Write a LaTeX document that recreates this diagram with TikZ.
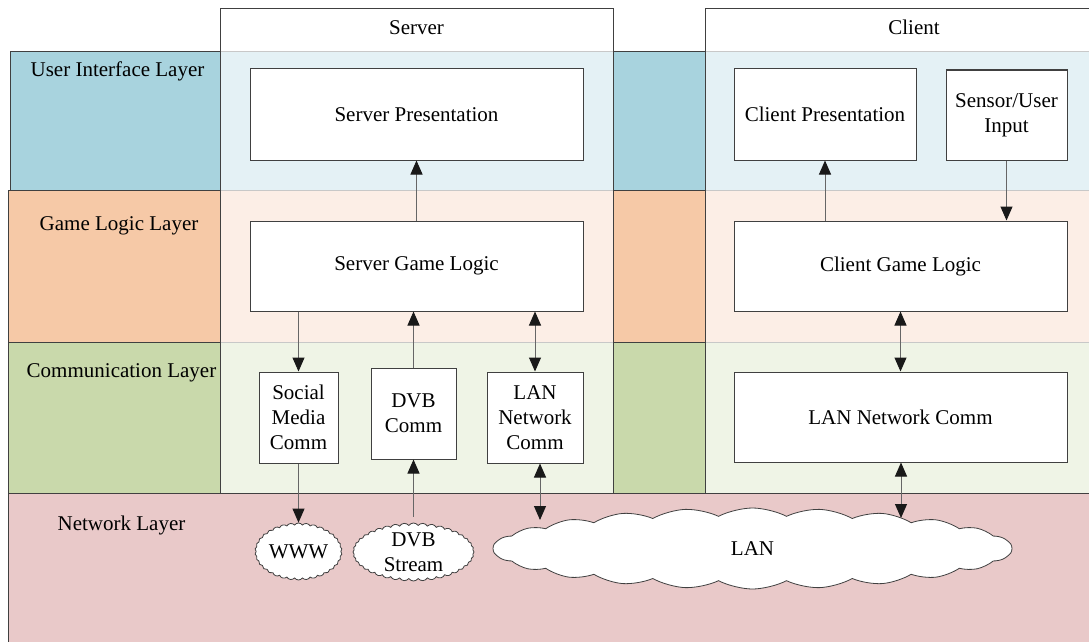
\documentclass[tikz,border=0pt]{standalone}
\usepackage{fontspec}
\setmainfont{Liberation Serif}
\usetikzlibrary{arrows.meta,shapes.symbols}

% layer colours: strong tones for the layer strips, light tones inside the columns
\definecolor{uiDark}{HTML}{A8D3DE}
\definecolor{uiLight}{HTML}{E4F1F5}
\definecolor{glDark}{HTML}{F6C9A7}
\definecolor{glLight}{HTML}{FCEEE6}
\definecolor{cmDark}{HTML}{C9D9AB}
\definecolor{cmLight}{HTML}{EFF4E6}
\definecolor{nwFill}{HTML}{E9C9C9}
\definecolor{edge}{HTML}{404040}
\definecolor{bandline}{HTML}{C8C8C8}

\tikzset{
  txt/.style={font=\fontsize{21}{25}\selectfont},
  layerlabel/.style={txt, anchor=base},
  layerbox/.style={draw=edge, line width=0.9pt},
  box/.style={txt, draw=edge, fill=white, line width=1pt, align=center, inner sep=0pt},
  netcloud/.style={cloud, draw=edge, fill=white, line width=0.8pt, inner sep=0pt, cloud ignores aspect},
  cloudtext/.style={label={[txt, align=center]center:#1}},
  link/.style={draw=black!60, line width=1pt, ->},
  duplex/.style={draw=black!60, line width=1pt, <->},
}

\begin{document}
\begin{tikzpicture}[x=1pt, y=-1pt, >={Triangle[length=14pt,width=12pt,color=black!90]}]
\useasboundingbox (0,0) rectangle (1089,642);

% network layer strip across the whole width
\draw[layerbox, fill=nwFill] (8,493) rectangle (1100,660);

% layer strips on the left
\draw[layerbox, fill=uiDark] (10,51) rectangle (220,190);
\draw[layerbox, fill=glDark] (8,190) rectangle (220,342);
\draw[layerbox, fill=cmDark] (8,342) rectangle (220,493);

% layer strips between the two columns
\draw[layerbox, fill=uiDark] (613,51) rectangle (705,190);
\draw[layerbox, fill=glDark] (613,190) rectangle (705,342);
\draw[layerbox, fill=cmDark] (613,342) rectangle (705,493);

% server column
\fill[white]   (220,8)   rectangle (613,51);
\fill[uiLight] (220,51)  rectangle (613,190);
\fill[glLight] (220,190) rectangle (613,342);
\fill[cmLight] (220,342) rectangle (613,493);
\draw[bandline, line width=0.8pt] (220,51) -- (613,51) (220,190) -- (613,190) (220,342) -- (613,342);
\draw[edge, line width=0.9pt] (220,493) -- (220,8) -- (613,8) -- (613,493);
\draw[edge, line width=0.9pt] (220,493) -- (613,493);

% client column
\fill[white]   (705,8)   rectangle (1100,51);
\fill[uiLight] (705,51)  rectangle (1100,190);
\fill[glLight] (705,190) rectangle (1100,342);
\fill[cmLight] (705,342) rectangle (1100,493);
\draw[bandline, line width=0.8pt] (705,51) -- (1100,51) (705,190) -- (1100,190) (705,342) -- (1100,342);
\draw[edge, line width=0.9pt] (705,493) -- (705,8) -- (1100,8);
\draw[edge, line width=0.9pt] (705,493) -- (1100,493);

% column headers
\node[layerlabel] (serverhead) at (416.5,35) {Server};
\node[layerlabel] (clienthead) at (914,35) {Client};

% layer labels
\node[layerlabel] (uilabel) at (117.5,76) {User Interface Layer};
\node[layerlabel] (gllabel) at (119,230) {Game Logic Layer};
\node[layerlabel] (cmlabel) at (121.5,377) {Communication Layer};
\node[layerlabel] (nwlabel) at (121.5,530) {Network Layer};

% server components
\node[box, minimum width=333, minimum height=91] (sp)   at (416.5,114.5) {Server Presentation};
\node[box, minimum width=333, minimum height=90] (sgl)  at (416.5,266)   {Server Game Logic};
\node[box, minimum width=79,  minimum height=91] (smc)  at (298.5,417.5) {Social\\Media\\Comm};
\node[box, minimum width=85,  minimum height=91] (dvbc) at (413.5,413.5) {DVB\\Comm};
\node[box, minimum width=96,  minimum height=91] (slan) at (535,417.5)   {LAN\\Network\\Comm};

% client components
\node[box, minimum width=182, minimum height=91] (cp)   at (825,114.5)   {Client Presentation};
\node[box, minimum width=121, minimum height=90] (sui)  at (1006.5,115)  {Sensor/User\\Input};
\node[box, minimum width=333, minimum height=90] (cgl)  at (900.5,266)   {Client Game Logic};
\node[box, minimum width=333, minimum height=90] (clan) at (900.5,417)   {LAN Network Comm};

% networks
\node[netcloud, cloud puffs=34, cloud puff arc=110, minimum width=87,  minimum height=57,
      cloudtext={WWW}] (www) at (298.5,551.5) {};
\node[netcloud, cloud puffs=40, cloud puff arc=110, minimum width=121, minimum height=58,
      cloudtext={DVB\\Stream}] (dvbs) at (413.5,552) {};
\node[netcloud, cloud puffs=24, cloud puff arc=55, minimum width=519, minimum height=81,
      cloudtext={LAN}] (lan) at (752.5,548.5) {};

% end points on the LAN cloud
\coordinate (lanS) at (540,520);
\coordinate (lanC) at (901,518);

% server links
\draw[link]   (sgl) -- (sp);
\draw[link]   (sgl.south -| smc.north) -- (smc.north);
\draw[link]   (dvbc.north) -- (dvbc.north |- sgl.south);
\draw[duplex] (slan.north |- sgl.south) -- (slan.north);
\draw[link]   (smc.south) -- (smc.south |- www.north);
\draw[link, shorten <=6pt] (dvbc.south |- dvbs.north) -- (dvbc.south);
\draw[duplex] (lanS |- slan.south) -- (lanS);

% client links
\draw[link]   (cp.south |- cgl.north) -- (cp.south);
\draw[link]   (sui.south) -- (sui.south |- cgl.north);
\draw[duplex] (cgl.south) -- (clan.north);
\draw[duplex] (lanC |- clan.south) -- (lanC);
\end{tikzpicture}
\end{document}
